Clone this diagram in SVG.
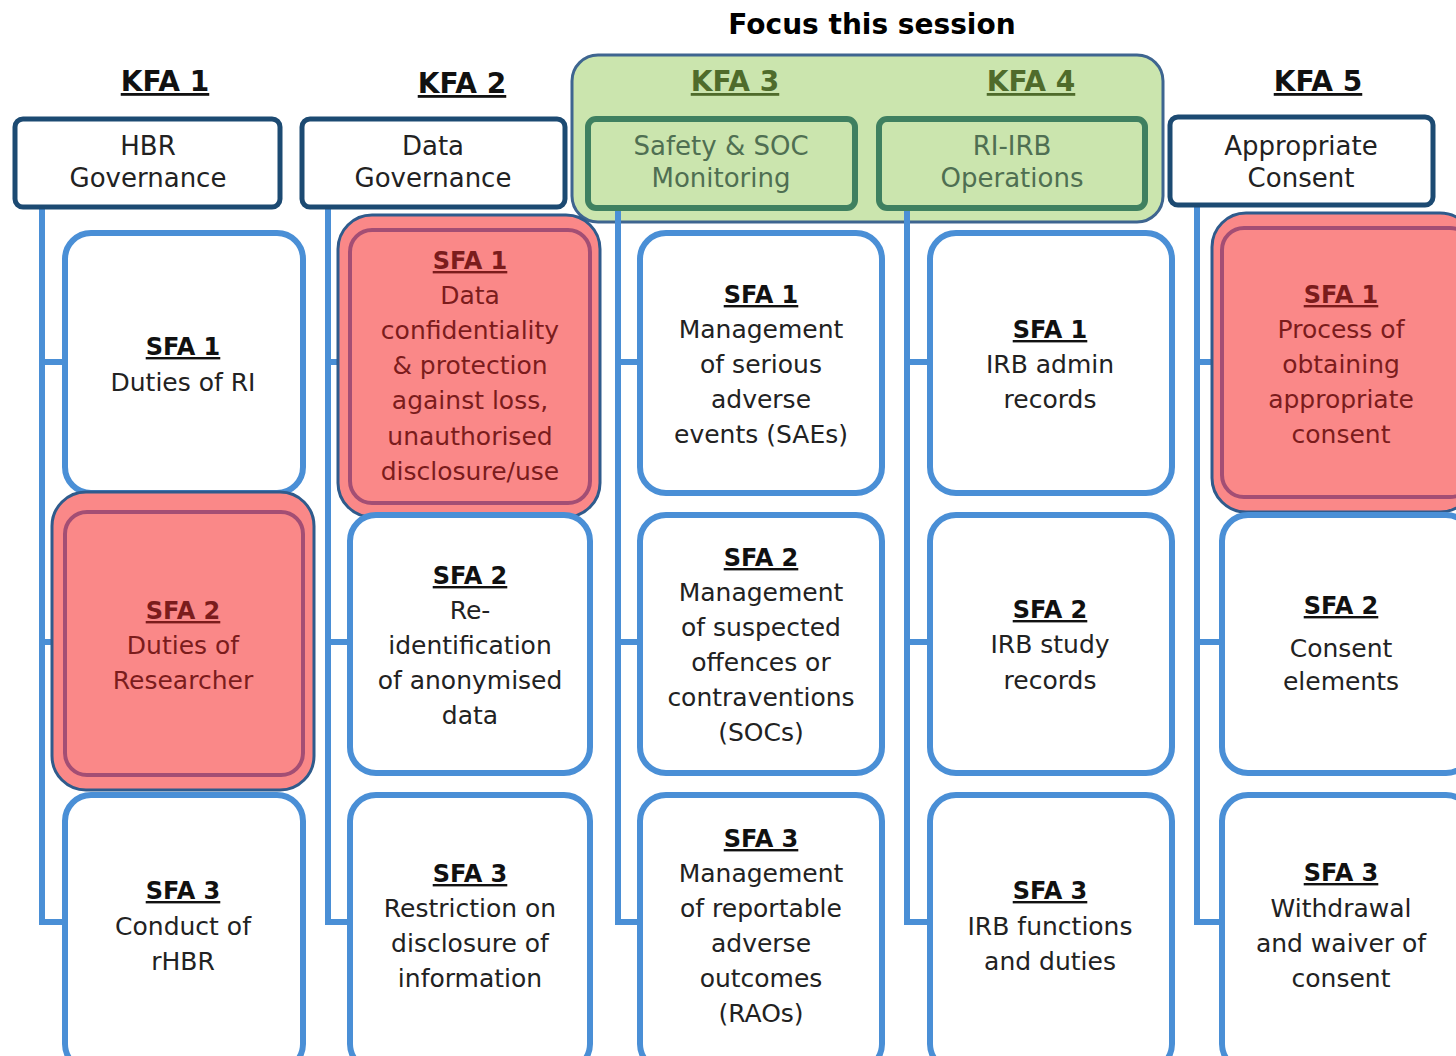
<svg xmlns="http://www.w3.org/2000/svg" width="1456" height="1056" viewBox="0 0 1456 1056">
<style>
text{font-family:"DejaVu Sans","Liberation Sans",sans-serif;text-anchor:middle}
.kfa{font-size:28px;font-weight:bold;fill:#111;text-decoration:underline}
.kfag{font-size:28px;font-weight:bold;fill:#4f6b2b;text-decoration:underline}
.focus{font-size:28px;font-weight:bold;fill:#000}
.hdr{fill:#fff;stroke:#1c4a72;stroke-width:5}
.hdrg{fill:none;stroke:#3f8060;stroke-width:6}
.ht{font-size:26px;fill:#222}
.htg{font-size:26px;fill:#4f6f52}
.sfa{fill:#fff;stroke:#4a8fd6;stroke-width:6}
.red{fill:#fa8888;stroke:#2f5b8c;stroke-width:3}
.redin{fill:#fa8888;stroke:#a34e74;stroke-width:4}
.st{font-size:24px;font-weight:bold;fill:#111;text-decoration:underline}
.sb{font-size:25px;fill:#222}
.rt{font-size:24px;font-weight:bold;fill:#7b1c1c;text-decoration:underline}
.rb{font-size:25px;fill:#7b1c1c}
.con{fill:none;stroke:#4a8fd6;stroke-width:6}
</style>
<text class="focus" x="872" y="34">Focus this session</text>
<rect x="572" y="55" width="591" height="167" rx="26" fill="#cbe5ae" stroke="#3e6590" stroke-width="3"/>
<g id="connectors">
<path class="con" d="M42 207V922H65M42 362H65M42 642H65"/>
<path class="con" d="M328 207V922H350M328 362H350M328 642H350"/>
<path class="con" d="M618 208V922H640M618 362H640M618 642H640"/>
<path class="con" d="M907 208V922H930M907 362H930M907 642H930"/>
<path class="con" d="M1197 205V922H1222M1197 362H1222M1197 642H1222"/>
</g>
<g id="kfa1">
<text class="kfa" x="165" y="91">KFA 1</text>
<rect class="hdr" x="15" y="119" width="265" height="88" rx="8"/>
<text class="ht" x="148" y="155">HBR</text>
<text class="ht" x="148" y="187">Governance</text>
</g>
<g id="kfa2">
<text class="kfa" x="462" y="93">KFA 2</text>
<rect class="hdr" x="302" y="119" width="263" height="88" rx="8"/>
<text class="ht" x="433" y="155">Data</text>
<text class="ht" x="433" y="187">Governance</text>
</g>
<g id="kfa3">
<text class="kfag" x="735" y="91">KFA 3</text>
<rect class="hdrg" x="588" y="119" width="267" height="89" rx="8"/>
<text class="htg" x="721" y="155">Safety &amp; SOC</text>
<text class="htg" x="721" y="187">Monitoring</text>
</g>
<g id="kfa4">
<text class="kfag" x="1031" y="91">KFA 4</text>
<rect class="hdrg" x="879" y="119" width="266" height="89" rx="8"/>
<text class="htg" x="1012" y="155">RI-IRB</text>
<text class="htg" x="1012" y="187">Operations</text>
</g>
<g id="kfa5">
<text class="kfa" x="1318" y="91">KFA 5</text>
<rect class="hdr" x="1170" y="117" width="263" height="88" rx="8"/>
<text class="ht" x="1301" y="155">Appropriate</text>
<text class="ht" x="1301" y="187">Consent</text>
</g>
<!-- Column 1 -->
<g id="k1s1">
<rect class="sfa" x="65" y="233" width="238" height="260" rx="26"/>
<text class="st" x="183" y="355">SFA 1</text>
<text class="sb" x="183" y="391">Duties of RI</text>
</g>
<g id="k1s2">
<rect class="red" x="52" y="492" width="262" height="298" rx="34"/>
<rect class="redin" x="65" y="512" width="238" height="263" rx="22"/>
<text class="rt" x="183" y="619">SFA 2</text>
<text class="rb" x="183" y="654">Duties of</text>
<text class="rb" x="183" y="689">Researcher</text>
</g>
<g id="k1s3">
<rect class="sfa" x="65" y="795" width="238" height="275" rx="26"/>
<text class="st" x="183" y="899">SFA 3</text>
<text class="sb" x="183" y="935">Conduct of</text>
<text class="sb" x="183" y="970">rHBR</text>
</g>
<!-- Column 2 -->
<g id="k2s1">
<rect class="red" x="338" y="215" width="262" height="302" rx="34"/>
<rect class="redin" x="350" y="230" width="240" height="273" rx="22"/>
<text class="rt" x="470" y="269">SFA 1</text>
<text class="rb" x="470" y="304">Data</text>
<text class="rb" x="470" y="339">confidentiality</text>
<text class="rb" x="470" y="374">&amp; protection</text>
<text class="rb" x="470" y="409">against loss,</text>
<text class="rb" x="470" y="445">unauthorised</text>
<text class="rb" x="470" y="480">disclosure/use</text>
</g>
<g id="k2s2">
<rect class="sfa" x="350" y="515" width="240" height="258" rx="26"/>
<text class="st" x="470" y="584">SFA 2</text>
<text class="sb" x="470" y="619">Re-</text>
<text class="sb" x="470" y="654">identification</text>
<text class="sb" x="470" y="689">of anonymised</text>
<text class="sb" x="470" y="724">data</text>
</g>
<g id="k2s3">
<rect class="sfa" x="350" y="795" width="240" height="275" rx="26"/>
<text class="st" x="470" y="882">SFA 3</text>
<text class="sb" x="470" y="917">Restriction on</text>
<text class="sb" x="470" y="952">disclosure of</text>
<text class="sb" x="470" y="987">information</text>
</g>
<!-- Column 3 -->
<g id="k3s1">
<rect class="sfa" x="640" y="233" width="242" height="260" rx="26"/>
<text class="st" x="761" y="303">SFA 1</text>
<text class="sb" x="761" y="338">Management</text>
<text class="sb" x="761" y="373">of serious</text>
<text class="sb" x="761" y="408">adverse</text>
<text class="sb" x="761" y="443">events (SAEs)</text>
</g>
<g id="k3s2">
<rect class="sfa" x="640" y="515" width="242" height="258" rx="26"/>
<text class="st" x="761" y="566">SFA 2</text>
<text class="sb" x="761" y="601">Management</text>
<text class="sb" x="761" y="636">of suspected</text>
<text class="sb" x="761" y="671">offences or</text>
<text class="sb" x="761" y="706">contraventions</text>
<text class="sb" x="761" y="741">(SOCs)</text>
</g>
<g id="k3s3">
<rect class="sfa" x="640" y="795" width="242" height="275" rx="26"/>
<text class="st" x="761" y="847">SFA 3</text>
<text class="sb" x="761" y="882">Management</text>
<text class="sb" x="761" y="917">of reportable</text>
<text class="sb" x="761" y="952">adverse</text>
<text class="sb" x="761" y="987">outcomes</text>
<text class="sb" x="761" y="1022">(RAOs)</text>
</g>
<!-- Column 4 -->
<g id="k4s1">
<rect class="sfa" x="930" y="233" width="242" height="260" rx="26"/>
<text class="st" x="1050" y="338">SFA 1</text>
<text class="sb" x="1050" y="373">IRB admin</text>
<text class="sb" x="1050" y="408">records</text>
</g>
<g id="k4s2">
<rect class="sfa" x="930" y="515" width="242" height="258" rx="26"/>
<text class="st" x="1050" y="618">SFA 2</text>
<text class="sb" x="1050" y="653">IRB study</text>
<text class="sb" x="1050" y="689">records</text>
</g>
<g id="k4s3">
<rect class="sfa" x="930" y="795" width="242" height="275" rx="26"/>
<text class="st" x="1050" y="899">SFA 3</text>
<text class="sb" x="1050" y="935">IRB functions</text>
<text class="sb" x="1050" y="970">and duties</text>
</g>
<!-- Column 5 -->
<g id="k5s1">
<rect class="red" x="1212" y="213" width="262" height="299" rx="34"/>
<rect class="redin" x="1222" y="228" width="250" height="269" rx="22"/>
<text class="rt" x="1341" y="303">SFA 1</text>
<text class="rb" x="1341" y="338">Process of</text>
<text class="rb" x="1341" y="373">obtaining</text>
<text class="rb" x="1341" y="408">appropriate</text>
<text class="rb" x="1341" y="443">consent</text>
</g>
<g id="k5s2">
<rect class="sfa" x="1222" y="515" width="250" height="258" rx="26"/>
<text class="st" x="1341" y="614">SFA 2</text>
<text class="sb" x="1341" y="657">Consent</text>
<text class="sb" x="1341" y="690">elements</text>
</g>
<g id="k5s3">
<rect class="sfa" x="1222" y="795" width="250" height="275" rx="26"/>
<text class="st" x="1341" y="881">SFA 3</text>
<text class="sb" x="1341" y="917">Withdrawal</text>
<text class="sb" x="1341" y="952">and waiver of</text>
<text class="sb" x="1341" y="987">consent</text>
</g>
</svg>
